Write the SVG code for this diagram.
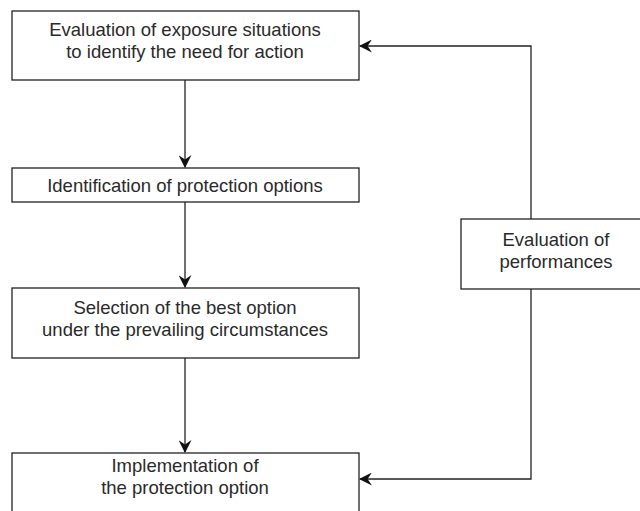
<svg xmlns="http://www.w3.org/2000/svg" width="640" height="511" viewBox="0 0 640 511">
<defs>
<style>
.box{fill:#fff;stroke:#222;stroke-width:1.3}
.t{font-family:"Liberation Sans",Arial,sans-serif;font-size:18.5px;fill:#2a2a2a;text-anchor:middle}
.c{fill:none;stroke:#222;stroke-width:1.3}
</style>
<marker id="ah" viewBox="0 0 12 12" refX="11" refY="6" markerWidth="13" markerHeight="13" markerUnits="userSpaceOnUse" orient="auto">
<path d="M0,0 L12,6 L0,12 L4,6 Z" fill="#111"/>
</marker>
</defs>
<rect width="640" height="511" fill="#fff"/>
<g id="connectors">
<line class="c" x1="185" y1="80" x2="185" y2="167" marker-end="url(#ah)"/>
<line class="c" x1="185" y1="202" x2="185" y2="287" marker-end="url(#ah)"/>
<line class="c" x1="185" y1="358" x2="185" y2="452" marker-end="url(#ah)"/>
<polyline class="c" points="531,219 531,46 360,46" marker-end="url(#ah)"/>
<polyline class="c" points="531,289 531,479 360,479" marker-end="url(#ah)"/>
</g>
<g id="n1">
<rect class="box" x="12" y="11" width="347" height="69"/>
<text class="t" x="185" y="36">Evaluation of exposure situations</text>
<text class="t" x="185" y="58">to identify the need for action</text>
</g>
<g id="n2">
<rect class="box" x="12" y="168" width="347" height="34"/>
<text class="t" x="185" y="192">Identification of protection options</text>
</g>
<g id="n3">
<rect class="box" x="12" y="288" width="347" height="70"/>
<text class="t" x="185" y="314">Selection of the best option</text>
<text class="t" x="185" y="336">under the prevailing circumstances</text>
</g>
<g id="n4">
<rect class="box" x="12" y="453" width="347" height="60"/>
<text class="t" x="185" y="472">Implementation of</text>
<text class="t" x="185" y="494">the protection option</text>
</g>
<g id="n5">
<rect class="box" x="461" y="219" width="180" height="70"/>
<text class="t" x="556" y="246">Evaluation of</text>
<text class="t" x="556" y="268">performances</text>
</g>
</svg>
